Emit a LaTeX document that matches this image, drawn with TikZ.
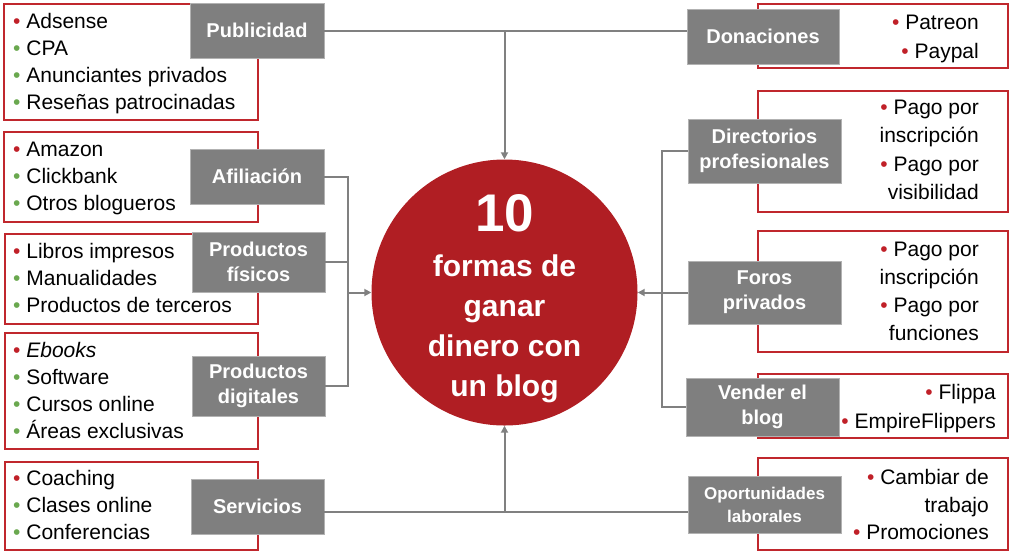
\documentclass[tikz,border=0pt]{standalone}
\usepackage{fontspec}
\setmainfont{Liberation Sans}
\usetikzlibrary{arrows.meta}
\definecolor{circred}{RGB}{176,30,35}
\definecolor{boxred}{RGB}{192,39,45}
\definecolor{bulred}{RGB}{192,32,40}
\definecolor{bulgreen}{RGB}{106,168,79}
\definecolor{labgray}{RGB}{127,127,127}
\definecolor{lingray}{RGB}{128,128,128}
\newcommand\rb{\strut{\color{bulred}\textbullet}\ }
\newcommand\gb{\strut{\color{bulgreen}\textbullet}\ }
\begin{document}
\begin{tikzpicture}[x=1pt,y=-1pt,
  redbox/.style={draw=boxred, line width=2pt},
  lab/.style={fill=labgray, draw=labgray!60, line width=0.8pt, text=white,
    font=\bfseries\fontsize{20}{25}\selectfont, align=center, inner sep=0},
  labs/.style={lab, font=\bfseries\fontsize{17}{23}\selectfont},
  listL/.style={font=\fontsize{21}{27}\selectfont, align=left, anchor=west, inner sep=0},
  listR/.style={font=\fontsize{21}{28.5}\selectfont, align=right, anchor=east, inner sep=0},
  conn/.style={draw=lingray, line width=2pt},
  arr/.style={conn, -{Triangle[length=7pt,width=7pt]}}]
\useasboundingbox (0,0) rectangle (1024,558);
% red frames
\draw[redbox] (4,4) rectangle (258,120);
\draw[redbox] (4,132) rectangle (258,222);
\draw[redbox] (5,234) rectangle (258,324);
\draw[redbox] (5,333) rectangle (258,449);
\draw[redbox] (5,462) rectangle (258,550);
\draw[redbox] (758,4) rectangle (1008,68);
\draw[redbox] (758,91) rectangle (1008,212);
\draw[redbox] (758,231) rectangle (1008,352);
\draw[redbox] (758,374) rectangle (1008,438);
\draw[redbox] (758,458) rectangle (1008,550);
% lists left
\node[listL] (pubT) at (13,63.5) {\rb Adsense\\\gb CPA\\\gb Anunciantes privados\\\gb Reseñas patrocinadas};
\node[listL] (afiT) at (13,178.5) {\rb Amazon\\\gb Clickbank\\\gb Otros blogueros};
\node[listL] (fisT) at (13,280) {\rb Libros impresos\\\gb Manualidades\\\gb Productos de terceros};
\node[listL] (digT) at (13,392.5) {\rb \textit{Ebooks}\\\gb Software\\\gb Cursos online\\\gb Áreas exclusivas};
\node[listL] (serT) at (13,507) {\rb Coaching\\\gb Clases online\\\gb Conferencias};
% lists right
\node[listR, font=\fontsize{21}{29}\selectfont] (donT) at (979,38.5) {\rb Patreon\\\rb Paypal};
\node[listR] (dirT) at (979,151.5) {\rb Pago por\\\strut inscripción\\\rb Pago por\\\strut visibilidad};
\node[listR, font=\fontsize{21}{28}\selectfont] (forT) at (979,293) {\rb Pago por\\\strut inscripción\\\rb Pago por\\\strut funciones};
\node[listR, font=\fontsize{21}{29}\selectfont] (venT) at (996,408.5) {\rb Flippa\\\rb EmpireFlippers};
\node[listR, font=\fontsize{21}{27.5}\selectfont] (opoT) at (989,506.5) {\rb Cambiar de\\\strut trabajo\\\rb Promociones};
% gray labels
\node[lab, minimum width=134pt, minimum height=55pt] (pub) at (257,30.5) {Publicidad};
\node[lab, minimum width=134pt, minimum height=55pt] (afi) at (257,176.5) {Afiliación};
\node[lab, minimum width=133pt, minimum height=60pt] (fis) at (258.5,262) {Productos\\físicos};
\node[lab, minimum width=133pt, minimum height=60pt] (dig) at (258.5,386) {Productos\\digitales};
\node[lab, minimum width=133pt, minimum height=55pt] (ser) at (257.5,506.5) {Servicios};
\node[lab, minimum width=152pt, minimum height=55pt] (don) at (763,36.5) {Donaciones};
\node[lab, minimum width=153pt, minimum height=64pt] (dir) at (764.5,151) {Directorios\\profesionales};
\node[lab, minimum width=153pt, minimum height=63pt] (for) at (764.5,292.5) {Foros\\privados};
\node[lab, minimum width=153pt, minimum height=58pt] (ven) at (762.5,407) {Vender el\\blog};
\node[labs, minimum width=153pt, minimum height=57pt] (opo) at (764.5,504.5) {Oportunidades\\laborales};
% central circle
\node[circle, fill=circred, minimum size=266pt, inner sep=0] (circ) at (504.5,292.5) {};
\node[font=\bfseries\fontsize{53}{53}\selectfont, text=white, inner sep=0] (ten) at (504.5,213) {10};
\node[font=\bfseries\fontsize{30}{40}\selectfont, text=white, align=center, inner sep=0] (ttl) at (504.5,328) {\strut formas de\\\strut ganar\\\strut dinero con\\\strut un blog};
% connectors
\coordinate (tj) at (504.5,31);
\coordinate (bj) at (504.5,512);
\coordinate (lj) at (348,292.5);
\coordinate (rj) at (662,292.5);
\draw[conn] (pub.east |- tj) -- (don.west |- tj);
\draw[arr] (tj) -- (circ.north);
\draw[conn] (ser.east |- bj) -- (opo.west |- bj);
\draw[arr] (bj) -- (circ.south);
\draw[conn] (afi.east) -| (lj);
\draw[conn] (dig.east) -| (lj);
\draw[conn] (fis.east) -- (fis.east -| lj);
\draw[arr] (lj) -- (circ.west);
\draw[conn] (dir.west) -| (rj);
\draw[conn] (ven.west) -| (rj);
\draw[arr] (for.west) -- (circ.east);
\end{tikzpicture}
\end{document}
